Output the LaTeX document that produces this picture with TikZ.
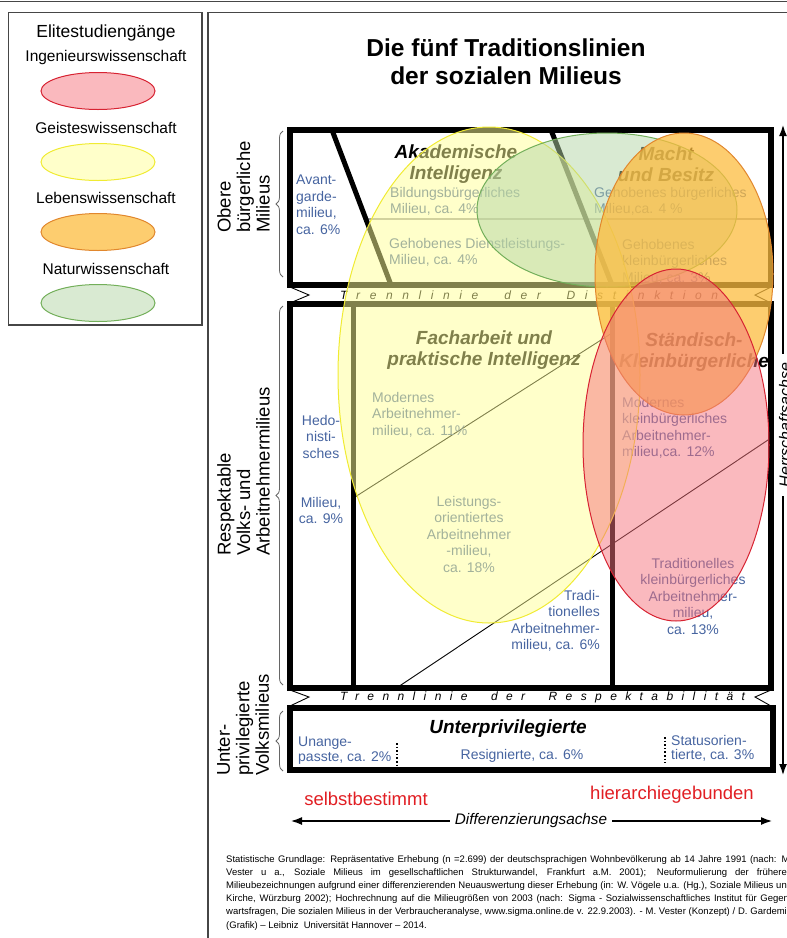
\documentclass[tikz,border=0pt]{standalone}
\usepackage{fontspec}
\setmainfont{Liberation Sans}
\usetikzlibrary{arrows.meta,shapes.geometric,decorations.pathreplacing}

\definecolor{milieublue}{RGB}{70,100,160}
\definecolor{axisred}{RGB}{225,30,35}
\definecolor{framegray}{RGB}{70,70,70}
\definecolor{ingfill}{RGB}{245,115,125}
\definecolor{ingdraw}{RGB}{215,35,50}
\definecolor{geistfill}{RGB}{255,255,150}
\definecolor{geistdraw}{RGB}{240,235,50}
\definecolor{lebenfill}{RGB}{252,188,63}
\definecolor{lebendraw}{RGB}{225,135,45}
\definecolor{naturfill}{RGB}{180,213,165}
\definecolor{naturdraw}{RGB}{115,175,90}

\newcommand{\footline}[1]{\makebox[566pt][s]{#1}}

\begin{document}
\begin{tikzpicture}[x=1pt, y=-1pt,
    every node/.style={inner sep=0pt},
    heavy/.style={line width=5.5pt},
    divider/.style={line width=5pt},
    fine/.style={line width=0.9pt},
    axis/.style={line width=2.6pt, -{Latex[length=12pt,width=8pt]}},
    milieu/.style={font=\fontsize{14}{16.5}\selectfont, text=milieublue},
    tradition/.style={font=\fontsize{19}{21}\selectfont\bfseries\itshape, align=center},
    layer/.style={font=\fontsize{18.5}{19.5}\selectfont, rotate=90, align=left, anchor=north west},
    band/.style={font=\fontsize{12}{12}\selectfont\itshape\addfontfeature{LetterSpace=#1}, anchor=west},
    legendtext/.style={font=\fontsize{15.5}{17}\selectfont},
    pole/.style={font=\fontsize{18.5}{20}\selectfont, text=axisred},
    layerbrace/.style={decorate, decoration={brace, amplitude=7pt}, line width=0.8pt, draw=black!60},
    study/.style={ellipse, draw, line width=1pt, fill opacity=0.5, draw opacity=1},
    ing/.style={study, draw=ingdraw, fill=ingfill},
    geist/.style={study, draw=geistdraw, fill=geistfill},
    leben/.style={study, draw=lebendraw, fill=lebenfill, fill opacity=0.75},
    natur/.style={study, draw=naturdraw, fill=naturfill}
  ]
  \useasboundingbox (0,0) rectangle (787,938);

  % frames
  \draw[line width=1.5pt, framegray] (0,1.5) -- (787,1.5);
  \draw[line width=1.2pt, framegray] (8.5,12.5) rectangle (202,325);
  \draw[line width=1.2pt, framegray] (208,940) -- (208,12.5) -- (790,12.5);

  % legend
  \node[font=\fontsize{17.5}{19}\selectfont] (legtitle) at (106,33) {Elitestudiengänge};
  \foreach \name/\txt/\y in {ing/Ingenieurswissenschaft/57, geist/Geisteswissenschaft/128,
      leben/Lebenswissenschaft/198, natur/Naturwissenschaft/269}
  {
    \node[legendtext] (leg\name) at (106,\y) {\txt};
    \node[\name, minimum width=114pt, minimum height=37pt] (key\name) at (98,\y+34) {};
  }

  \node[font=\fontsize{24.5}{28}\selectfont\bfseries, align=center] (title) at (506,62)
    {Die fünf Traditionslinien\\der sozialen Milieus};

  % layers
  \draw[heavy] (290,130) rectangle (771,285);
  \draw[heavy] (290,304) rectangle (771,688);
  \draw[heavy] (290,708) rectangle (773,770);

  \draw[divider] (332,130) -- (391,285);
  \draw[divider] (551,130) -- (612,285);
  \draw[divider] (353,304) -- (353,688);
  \draw[divider] (612,304) -- (612,688);
  \draw[fine]
    (368,219) -- (771,219)
    (355,497) -- (612,333)
    (398,687) -- (771,438);

  % separation bands
  \draw[fine]
    (290,287) -- (309,295) -- (290,303)
    (771,287) -- (755,295) -- (771,303)
    (290,690) -- (309,697) -- (290,706)
    (771,690) -- (755,697) -- (771,706);
  \node[band=80] (distinktion) at (340,295) {Trennlinie\ \ der\ \ Distinktion};
  \node[band=70] (respektabel) at (340,697) {Trennlinie\ \ der\ \ Respektabilität};

  \node[layer] (oberemil) at (217,233) {Obere\\bürgerliche\\Milieus};
  \node[layer] (respektmil) at (217,556) {Respektable\\Volks- und\\Arbeitnehmermilieus};
  \node[layer] (unterprivmil) at (217,776) {Unter-\\privilegierte\\Volksmilieus};
  \draw[layerbrace] (283,277) -- (283,131);
  \draw[layerbrace] (283,685) -- (283,306);
  \draw[layerbrace] (283,771) -- (283,711);

  % traditions
  \node[tradition] (akademisch) at (456,164) {Akademische\\Intelligenz};
  \node[tradition] (machtbesitz) at (666,164) {Macht\\und Besitz};
  \node[tradition] (facharbeit) at (484,350) {Facharbeit und\\praktische Intelligenz};
  \node[tradition] (staendisch) at (694,352) {Ständisch-\\Kleinbürgerliche};
  \node[tradition] (unterprivilegiert) at (508,729) {Unterprivilegierte};

  % milieus
  \node[milieu, anchor=north west, align=left] (avantgarde) at (296,175) {Avant-\\garde-\\milieu,\\ca. 6\%};
  \node[milieu, anchor=north west, align=left] (bildung) at (390,187) {Bildungsbürgerliches\\Milieu, ca. 4\%};
  \node[milieu, anchor=north west, align=left] (dienst) at (389,238) {Gehobenes Dienstleistungs-\\Milieu, ca. 4\%};
  \node[milieu, anchor=north west, align=left] (buergerlich) at (594,187) {Gehobenes bürgerliches\\Milieu,ca. 4 \%};
  \node[milieu, anchor=north west, align=left] (kleinbuerg) at (622,239) {Gehobenes\\kleinbürgerliches\\Milieu, ca. 3\%};
  \node[milieu, anchor=north, align=center] (hedo) at (321,415) {Hedo-\\nisti-\\sches};
  \node[milieu, anchor=north, align=center] (hedomil) at (321,497) {Milieu,\\ca. 9\%};
  \node[milieu, anchor=north west, align=left] (modern) at (372,392) {Modernes\\Arbeitnehmer-\\milieu, ca. 11\%};
  \node[milieu, anchor=north, align=center] (leistung) at (469,496) {Leistungs-\\orientiertes\\Arbeitnehmer\\-milieu,\\ca. 18\%};
  \node[milieu, anchor=north east, align=right] (tradarb) at (600,590) {Tradi-\\tionelles\\Arbeitnehmer-\\milieu, ca. 6\%};
  \node[milieu, anchor=north west, align=left] (modklein) at (622,397) {Modernes\\kleinbürgerliches\\Arbeitnehmer-\\milieu,ca. 12\%};
  \node[milieu, anchor=north, align=center] (tradklein) at (693,558) {Traditionelles\\kleinbürgerliches\\Arbeitnehmer-\\milieu,\\ca. 13\%};
  \node[milieu, anchor=north west, align=left, font=\fontsize{14}{14.5}\selectfont] (unangepasst) at (298,737) {Unange-\\passte, ca. 2\%};
  \node[milieu, anchor=north] (resigniert) at (522,749) {Resignierte, ca. 6\%};
  \node[milieu, anchor=north west, align=left, font=\fontsize{14}{14.5}\selectfont] (status) at (671,735) {Statusorien-\\tierte, ca. 3\%};
  \draw[line width=1.6pt, dotted]
    (397,743) -- (397,766)
    (665,737) -- (665,763);

  % axes
  \node[pole] (selbst) at (366,799) {selbstbestimmt};
  \node[pole] (hierarchie) at (672,795) {hierarchiegebunden};
  \node[font=\fontsize{15.3}{17}\selectfont\itshape, inner sep=5pt] (diffaxis) at (531,821) {Differenzierungsachse};
  \coordinate (diffleft) at (290,821);
  \coordinate (diffright) at (773,821);
  \draw[axis] (diffaxis.west) -- (diffleft);
  \draw[axis] (diffaxis.east) -- (diffright);

  \node[font=\fontsize{16}{17}\selectfont\itshape, rotate=90, inner sep=9pt] (herraxis) at (785,425) {Herrschaftsachse};
  \coordinate (herrtop) at (783,124);
  \coordinate (herrbottom) at (783,776);
  \draw[axis] (herraxis.east -| herrtop) -- (herrtop);
  \draw[axis] (herraxis.west -| herrbottom) -- (herrbottom);

  % study programmes
  \node[geist, minimum width=302pt, minimum height=496pt] (geistarea) at (489,375) {};
  \node[natur, minimum width=260pt, minimum height=154pt] (naturarea) at (607,210) {};
  \node[leben, minimum width=178pt, minimum height=282pt] (lebenarea) at (684,274) {};
  \node[ing, minimum width=186pt, minimum height=352pt] (ingarea) at (676,445) {};

  % source
  \node[anchor=north west, align=left, font=\fontsize{9.5}{13.2}\selectfont] (source) at (226,855)
    {\footline{Statistische Grundlage: Repräsentative Erhebung (n =2.699) der deutschsprachigen Wohnbevölkerung ab 14 Jahre 1991 (nach: M.}\\
     \footline{Vester u a., Soziale Milieus im gesellschaftlichen Strukturwandel, Frankfurt a.M. 2001); Neuformulierung der früheren}\\
     \footline{Milieubezeichnungen aufgrund einer differenzierenden Neuauswertung dieser Erhebung (in: W. Vögele u.a. (Hg.), Soziale Milieus und}\\
     \footline{Kirche, Würzburg 2002); Hochrechnung auf die Milieugrößen von 2003 (nach: Sigma - Sozialwissenschaftliches Institut für Gegen-}\\
     \footline{wartsfragen, Die sozialen Milieus in der Verbraucheranalyse, www.sigma.online.de v. 22.9.2003). - M. Vester (Konzept) / D. Gardemin}\\
     (Grafik) – Leibniz\ \ Universität Hannover – 2014.};
\end{tikzpicture}
\end{document}
